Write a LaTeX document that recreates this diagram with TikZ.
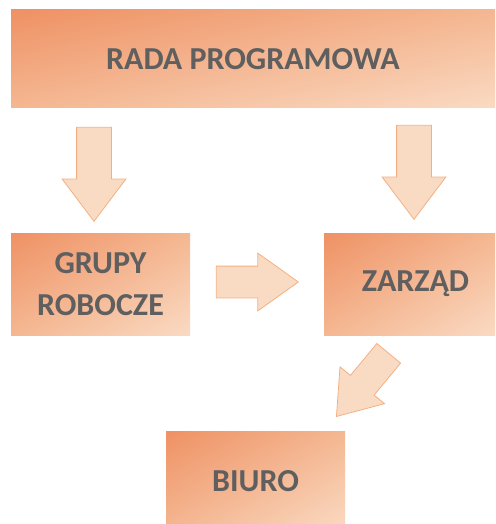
\documentclass[tikz,border=0pt]{standalone}
\usepackage{fontspec}
\setmainfont{Carlito}
\usepackage{xcolor}
\usetikzlibrary{shapes.arrows, shadings}

\definecolor{boxdark}{HTML}{EF9164}
\definecolor{boxmid}{HTML}{F4B791}
\definecolor{boxlight}{HTML}{FADAC3}
\definecolor{arrfill}{HTML}{F9DBC3}
\definecolor{arrline}{HTML}{F4B083}
\definecolor{boxtext}{HTML}{5F5F5F}

\begin{document}
\begin{tikzpicture}[
			x=1pt, y=-1pt,
			box/.style={inner sep=0pt, align=center, text=boxtext,
				font=\fontsize{32}{42}\selectfont\bfseries,
				upper left=boxdark, upper right=boxmid, lower left=boxmid, lower right=boxlight},
			arr/.style={single arrow, draw=arrline, fill=arrfill, line width=0.8pt,
				inner sep=0pt, text height=#1, text depth=0pt, anchor=tip},
			arr/.default=34pt
			]
			\useasboundingbox (0,0) rectangle (495,524);
			% boxes
			\node[box, minimum width=484, minimum height=98] (rada) at (253,59) {RADA PROGRAMOWA};
			\node[box, minimum width=179, minimum height=102] (grupy) at (100.5,284) {GRUPY\\ROBOCZE};
			\node[box, minimum width=171, minimum height=102] (zarzad) at (409.5,284) {\hspace{12pt}ZARZĄD};
			\node[box, minimum width=179, minimum height=100] (biuro) at (255.5,481) {BIURO};
			% block arrows (placed at their tips)
			\foreach \x/\y/\nm in {94/222/down1, 414/220/down2}{
				\node[arr, rotate=-90, minimum height=94, minimum width=63,
					single arrow head extend=14.5pt, single arrow tip angle=74] (\nm) at (\x,\y) {};
			}
			\node[arr=31pt, minimum height=82, minimum width=57,
				single arrow head extend=13pt, single arrow tip angle=71] (right1) at (299,282) {};
			\node[arr=30pt, rotate=230.4, minimum height=82, minimum width=57,
				single arrow head extend=13.5pt, single arrow tip angle=71] (diag1) at (336,417) {};
		\end{tikzpicture}
\end{document}
